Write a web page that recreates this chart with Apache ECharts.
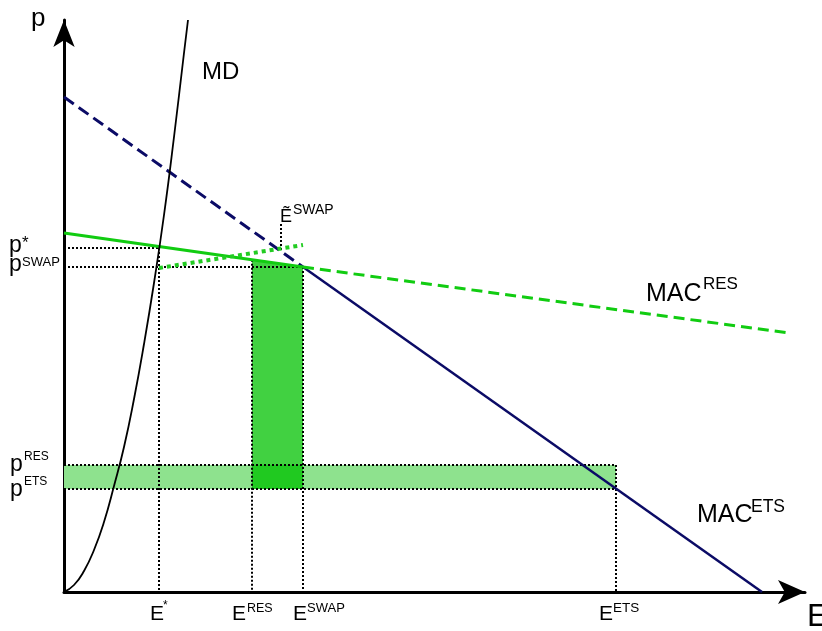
<!DOCTYPE html>
<html>
<head>
<meta charset="utf-8">
<script src="https://cdn.jsdelivr.net/npm/echarts@6/dist/echarts.min.js"></script>
<style>html,body{margin:0;padding:0;background:#fff}#c{width:822px;height:631px}</style>
</head>
<body>
<div id="c"></div>
<script>
// ---- data (E = emissions, p = price) ----
const xTickNames = ['E*', 'E^RES', 'E^SWAP', 'E^ETS'];
const xTickValues = [95, 188, 239, 552];
const yTickNames = ['p*', 'p^SWAP', 'p^RES', 'p^ETS'];
const yTickValues = [344, 325, 127, 103];
const eTildeSwap = 217;
const eTildeGuide = [342, 369];
const macEtsDashed = [[0, 495], [239, 325]];
const macEtsSolid = [[239, 325], [698, 0]];
const macResSolid = [[0, 359], [239, 325]];
const macResDashed = [[239, 325], [725, 259]];
const swapLine = [[95, 324], [239, 347]];
const mdCurve = [[0, 0], [10, 7], [20, 21], [30, 42], [40, 70], [50, 106], [60, 145], [70, 193], [80, 248], [90, 309], [100, 377], [110, 455], [120, 539], [124, 572]];

const [eStar, eRES, eSWAP, eETS] = xTickValues;
const [pStar, pSWAP, pRES, pETS] = yTickValues;
function macResAt(e) {
  const [a, b] = macResSolid;
  return a[1] + (b[1] - a[1]) * (e - a[0]) / (b[0] - a[0]);
}
const shapes = [
  [[0, pETS], [eETS, pETS], [eETS, pRES], [0, pRES]],
  [[eRES, pRES], [eRES, macResAt(eRES)], [eSWAP, macResAt(eSWAP)], [eSWAP, pRES]],
  [[eRES, pETS], [eRES, pRES], [eSWAP, pRES], [eSWAP, pETS]]
];
const shapeColors = ['#8ee28e', '#41d141', '#20c920'];

const guides = [
  [[0, pStar], [eStar, pStar]],
  [[eStar, pStar], [eStar, 0]],
  [[0, pSWAP], [eSWAP, pSWAP]],
  [[eSWAP, pSWAP], [eSWAP, 0]],
  [[eRES, macResAt(eRES)], [eRES, 0]],
  [[0, pRES], [eETS, pRES]],
  [[0, pETS], [eETS, pETS]],
  [[eETS, pRES], [eETS, 0]],
  [[eTildeSwap, eTildeGuide[0]], [eTildeSwap, eTildeGuide[1]]]
];

const FONT = 'Liberation Sans, Arial, sans-serif';
function txt(x, baseline, str, size) {
  return { type: 'text', x: x, y: baseline - 0.83 * size, silent: true,
    style: { text: str, fontSize: size, fontFamily: FONT, fill: '#000', verticalAlign: 'top' } };
}
function sup(x, capTop, str, size) {
  return txt(x, capTop + 0.716 * size, str, size);
}

const navy = '#0b0b66';
const green = '#11cc11';

const series = [];
series.push({
  type: 'custom', silent: true, z: 1,
  data: shapes.map((s, i) => i),
  renderItem: function (params, api) {
    const pts = shapes[params.dataIndex].map(p => api.coord(p));
    return { type: 'polygon', shape: { points: pts }, style: { fill: shapeColors[params.dataIndex] } };
  }
});
guides.forEach(g => series.push({
  type: 'line', data: g, symbol: 'none', silent: true, z: 3,
  lineStyle: { color: '#000', width: 2, type: [2, 2] }
}));
function line(data, color, width, type) {
  series.push({ type: 'line', data: data, symbol: 'none', silent: true, z: 4,
    lineStyle: { color: color, width: width, type: type } });
}
line(macEtsDashed, navy, 3, [12, 6]);
line(macEtsSolid, navy, 2.5, 'solid');
line(macResSolid, green, 3, 'solid');
line(macResDashed, green, 3, [11, 6]);
line(swapLine, '#22cc22', 4, [4, 4]);
series.push({ type: 'line', data: mdCurve, symbol: 'none', smooth: true, silent: true, z: 4,
  lineStyle: { color: '#000', width: 1.8 } });

const graphics = [
  txt(31, 27, 'p', 26),
  txt(807, 628, 'E', 32),
  txt(202, 80, 'MD', 24),
  txt(646, 302, 'MAC', 25), sup(703, 278, 'RES', 17),
  txt(697, 523, 'MAC', 25), sup(751, 500, 'ETS', 17.5),
  txt(280, 223, 'Ẽ', 18), sup(293, 205, 'SWAP', 14),
  txt(9, 253, 'p', 23), sup(22, 237, '*', 17),
  txt(9, 272, 'p', 23), sup(22, 257, 'SWAP', 13),
  txt(10, 472, 'p', 23), sup(24, 452, 'RES', 12),
  txt(10, 497, 'p', 23), sup(24, 477, 'ETS', 12),
  txt(150, 621, 'E', 21), sup(163, 601, '*', 12),
  txt(232, 621, 'E', 21), sup(247, 603, 'RES', 12.5),
  txt(293, 621, 'E', 21), sup(307, 603, 'SWAP', 13),
  txt(599, 621, 'E', 21), sup(613, 603, 'ETS', 13.5)
];

const chart = echarts.init(document.getElementById('c'), null, { renderer: 'canvas' });
chart.setOption({
  animation: false,
  grid: { left: 64, right: 17, top: 20, bottom: 39, containLabel: false },
  xAxis: { type: 'value', min: 0, max: 741, splitLine: { show: false }, axisTick: { show: false }, axisLabel: { show: false },
    axisLine: { onZero: false, symbol: ['none', 'arrow'], symbolSize: [18, 27], lineStyle: { color: '#000', width: 3 } } },
  yAxis: { type: 'value', min: 0, max: 572, splitLine: { show: false }, axisTick: { show: false }, axisLabel: { show: false },
    axisLine: { onZero: false, symbol: ['none', 'arrow'], symbolSize: [16, 27], lineStyle: { color: '#000', width: 3 } } },
  series: series,
  graphic: graphics
});
</script>
</body>
</html>
